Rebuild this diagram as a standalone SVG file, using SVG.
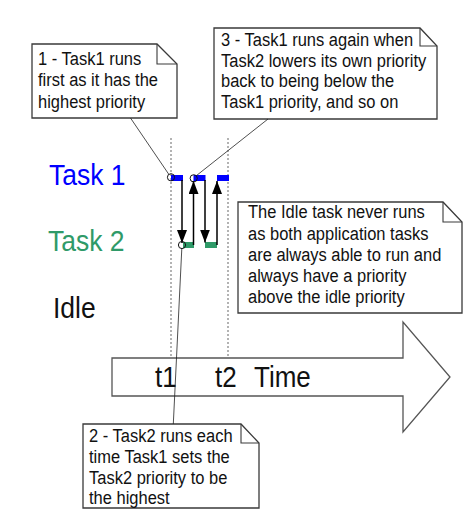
<svg xmlns="http://www.w3.org/2000/svg" width="473" height="530" viewBox="0 0 473 530">
  <style>
    text { font-family: "Liberation Sans", Arial, sans-serif; }
    .note { fill: #ffffff; stroke: #3a3a3a; stroke-width: 1.3; }
    .fold { fill: none; stroke: #3a3a3a; stroke-width: 1.1; }
    .ntext { font-size: 16.5px; fill: #111111; }
    .lane { font-size: 26.5px; }
    .tick { font-size: 26px; fill: #111111; }
    .guide { stroke: #9a9a9a; stroke-width: 1.5; stroke-dasharray: 2 2; fill: none; }
    .switch { stroke: #000000; stroke-width: 1.5; fill: none; marker-end: url(#head); }
    .leader { stroke: #222222; stroke-width: 0.8; fill: none; }
    .dot { fill: none; stroke: #111111; stroke-width: 1; }
    .run1 { fill: #0000ff; }
    .run2 { fill: #2f9a68; }
  </style>
  <defs>
    <marker id="head" markerUnits="userSpaceOnUse" markerWidth="14" markerHeight="11" refX="13" refY="5" orient="auto">
      <path d="M0,0 L13,5 L0,10 z" fill="#000000"/>
    </marker>
  </defs>

  <rect width="473" height="530" fill="#ffffff"/>

  <!-- lane labels -->
  <g id="lane-task1">
    <text class="lane" fill="#0000ff" transform="matrix(1,0,0,1.12,49,185)">Task 1</text>
  </g>
  <g id="lane-task2">
    <text class="lane" fill="#2f9a68" transform="matrix(1,0,0,1.12,48,250.7)">Task 2</text>
  </g>
  <g id="lane-idle">
    <text class="lane" fill="#111111" transform="matrix(1,0,0,1.12,53,318)">Idle</text>
  </g>

  <!-- t1 / t2 guides -->
  <g id="guides">
    <line class="guide" x1="171" y1="138" x2="171" y2="358"/>
    <line class="guide" x1="228" y1="138" x2="228" y2="358"/>
  </g>

  <!-- time axis arrow -->
  <g id="time-axis">
    <polygon points="112,358 403,358 403,322 450,377 403,432 403,396 112,396" fill="#ffffff" stroke="#555555" stroke-width="1.3"/>
    <text class="tick" transform="matrix(1,0,0,1.1,155,386.7)">t1</text>
    <text class="tick" transform="matrix(1,0,0,1.1,215,386.7)">t2</text>
    <text class="tick" transform="matrix(1,0,0,1.1,254,386.7)">Time</text>
  </g>

  <!-- execution slots and context switches -->
  <g id="execution">
    <rect class="run1" x="171" y="175" width="12" height="6"/>
    <rect class="run1" x="193.5" y="175" width="12" height="6"/>
    <rect class="run1" x="217" y="175" width="12" height="6"/>
    <rect class="run2" x="183" y="242" width="11" height="6"/>
    <rect class="run2" x="205" y="242" width="12" height="6"/>
    <line class="switch" x1="182" y1="180" x2="182" y2="243"/>
    <line class="switch" x1="193.5" y1="245" x2="193.5" y2="181"/>
    <line class="switch" x1="205" y1="180" x2="205" y2="242.5"/>
    <line class="switch" x1="217" y1="245" x2="217" y2="181"/>
  </g>

  <!-- note 1 -->
  <g id="note-1">
    <polygon class="note" points="32,44 157,44 177,64 177,118 32,118"/>
    <polyline class="fold" points="157,44 157,64 177,64"/>
    <text class="ntext" transform="matrix(1,0,0,1.1,38,64.5)">1 - Task1 runs</text>
    <text class="ntext" transform="matrix(1,0,0,1.1,38,86)">first as it has the</text>
    <text class="ntext" transform="matrix(1,0,0,1.1,38,107.5)">highest priority</text>
  </g>

  <!-- note 3 -->
  <g id="note-3">
    <polygon class="note" points="214,28 420,28 437,46 437,119 214,119"/>
    <polyline class="fold" points="420,28 420,46 437,46"/>
    <text class="ntext" transform="matrix(1,0,0,1.1,221,46)">3 - Task1 runs again when</text>
    <text class="ntext" transform="matrix(1,0,0,1.1,221,66.7)">Task2 lowers its own priority</text>
    <text class="ntext" transform="matrix(1,0,0,1.1,221,87.3)">back to being below the</text>
    <text class="ntext" transform="matrix(1,0,0,1.1,221,108.3)">Task1 priority, and so on</text>
  </g>

  <!-- idle note -->
  <g id="note-idle">
    <polygon class="note" points="238,202 443,202 462,222 462,313 238,313"/>
    <polyline class="fold" points="443,202 443,222 462,222"/>
    <text class="ntext" transform="matrix(1,0,0,1.1,248,218.3)">The Idle task never runs</text>
    <text class="ntext" transform="matrix(1,0,0,1.1,248,240)">as both application tasks</text>
    <text class="ntext" transform="matrix(1,0,0,1.1,248,261)">are always able to run and</text>
    <text class="ntext" transform="matrix(1,0,0,1.1,248,282.3)">always have a priority</text>
    <text class="ntext" transform="matrix(1,0,0,1.1,248,303.3)">above the idle priority</text>
  </g>

  <!-- note 2 -->
  <g id="note-2">
    <polygon class="note" points="83,424 241,424 259,443 259,508 83,508"/>
    <polyline class="fold" points="241,424 241,443 259,443"/>
    <text class="ntext" transform="matrix(1,0,0,1.1,89,441.7)">2 - Task2 runs each</text>
    <text class="ntext" transform="matrix(1,0,0,1.1,89,462.7)">time Task1 sets the</text>
    <text class="ntext" transform="matrix(1,0,0,1.1,89,484)">Task2 priority to be</text>
    <text class="ntext" transform="matrix(1,0,0,1.1,89,504)">the highest</text>
  </g>

  <!-- leaders from notes to the moments they describe -->
  <g id="connectors">
    <line class="leader" x1="130.5" y1="118" x2="168.8" y2="174.3"/>
    <circle class="dot" cx="171" cy="177.3" r="3.6"/>
    <line class="leader" x1="268" y1="119" x2="196.3" y2="175.7"/>
    <circle class="dot" cx="193.7" cy="178.3" r="3.6"/>
    <line class="leader" x1="173.3" y1="424" x2="181.8" y2="248.6"/>
    <circle class="dot" cx="182" cy="245" r="3.6"/>
  </g>
</svg>
